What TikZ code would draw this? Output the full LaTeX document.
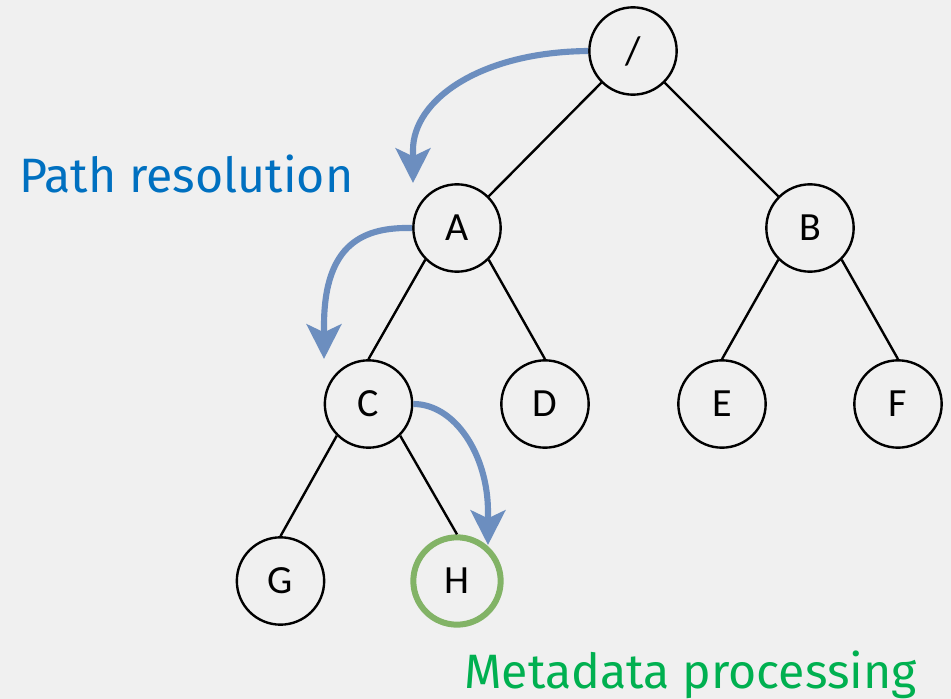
\documentclass[tikz,border=0pt]{standalone}
\usepackage{fontspec}
\setmainfont{Carlito}
\newfontfamily\labelfont{Fira Sans}
\usetikzlibrary{arrows.meta}
\definecolor{bgcol}{HTML}{F0F0F0}
\definecolor{arrowblue}{HTML}{6C8EBF}
\definecolor{ringgreen}{HTML}{82B366}
\definecolor{pathblue}{HTML}{0070C0}
\definecolor{metagreen}{HTML}{00B050}
\begin{document}
\begin{tikzpicture}[x=0.75pt,y=-0.75pt,
  treenode/.style={circle,draw=black,line width=1.8pt,minimum size=65.5pt,inner sep=0pt,
    font=\fontsize{30}{36}\selectfont},
  hilite/.style={draw=ringgreen,line width=4.5pt},
  edge/.style={draw=black,line width=1.8pt},
  flow/.style={draw=arrowblue,line width=4.6pt,
    -{Stealth[length=26pt,width=26pt,inset=6pt,fill=arrowblue]}},
  caption/.style={font=\labelfont\fontsize{36.2}{44}\selectfont,anchor=base west,inner sep=0pt}]
\fill[bgcol] (0,0) rectangle (951,699);
\useasboundingbox (0,0) rectangle (951,699);

\node[treenode] (root) at (633,51) {/};
\node[treenode] (A) at (457,228) {A};
\node[treenode] (B) at (810,228) {B};
\node[treenode] (C) at (368.5,404) {C};
\node[treenode] (D) at (545,404) {D};
\node[treenode] (E) at (722,404) {E};
\node[treenode] (F) at (898,404) {F};
\node[treenode] (G) at (280.5,581) {G};
\node[treenode,hilite] (H) at (457,581) {H};

\draw[edge] (root.south west) -- (A.north east);
\draw[edge] (root.south east) -- (B.north west);
\draw[edge] (A.south west) -- (C.north);
\draw[edge] (A.south east) -- (D.north);
\draw[edge] (B.south west) -- (E.north);
\draw[edge] (B.south east) -- (F.north);
\draw[edge] (C.south west) -- (G.north);
\draw[edge] (C.south east) -- (H.north);

\coordinate (k1) at (413,150);
\coordinate (t1) at (413,183);
\coordinate (k2) at (324,326);
\coordinate (t2) at (324,359);
\coordinate (k3) at (488,512);
\coordinate (t3) at (488,545);

\draw[flow] (root.west) .. controls (480,52) and (413,100) .. (k1) -- (t1);
\draw[flow] (A.west) .. controls (365,227) and (324,242) .. (k2) -- (t2);
\draw[flow] (C.east) .. controls (455,404) and (488,455) .. (k3) -- (t3);

\node[caption,text=pathblue] (pr) at (19,192) {Path resolution};
\node[caption,text=metagreen] (mp) at (464,688) {Metadata processing};
\end{tikzpicture}
\end{document}
